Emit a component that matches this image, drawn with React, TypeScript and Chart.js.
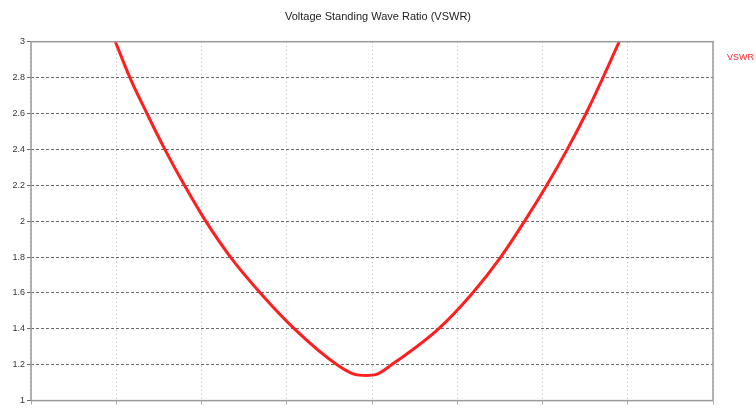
import React, { useEffect, useRef } from "react";
import { Chart, registerables } from "chart.js";

Chart.register(...registerables);

const titleText = "Voltage Standing Wave Ratio (VSWR)";
const seriesName = "VSWR";
const xPositions = [0.99, 1.16, 1.36, 1.57, 1.8, 2.05, 2.34, 2.69, 3.09, 3.59, 3.8, 3.93, 4.05, 4.23, 4.78, 5.18, 5.51, 5.79, 6.05, 6.29, 6.51, 6.71, 6.9];
const vswrValues = [3.0, 2.8, 2.6, 2.4, 2.2, 2.0, 1.8, 1.6, 1.4, 1.2, 1.146, 1.14, 1.146, 1.2, 1.4, 1.6, 1.8, 2.0, 2.2, 2.4, 2.6, 2.8, 3.0];
const yTicks = [1, 1.2, 1.4, 1.6, 1.8, 2, 2.2, 2.4, 2.6, 2.8, 3];

const boxPlugin = {
  id: "boxAndLabel",
  afterDraw(chart: any) {
    const { ctx, chartArea } = chart;
    ctx.save();
    ctx.strokeStyle = "#9a9a9a";
    ctx.lineWidth = 1.5;
    ctx.strokeRect(chartArea.left, chartArea.top, chartArea.right - chartArea.left, chartArea.bottom - chartArea.top);
    ctx.fillStyle = "#ff2a2a";
    ctx.font = "9px 'Liberation Sans', sans-serif";
    ctx.textAlign = "left";
    ctx.textBaseline = "middle";
    ctx.fillText(seriesName, chartArea.right + 14, 58);
    ctx.restore();
  },
};

export default function App() {
  const ref = useRef<HTMLCanvasElement | null>(null);
  useEffect(() => {
    document.body.style.margin = "0";
    const chart = new Chart(ref.current as HTMLCanvasElement, {
      type: "line",
      data: {
        datasets: [
          {
            label: seriesName,
            data: xPositions.map((x, i) => ({ x, y: vswrValues[i] })),
            borderColor: "#ff1f1f",
            borderWidth: 3,
            pointRadius: 0,
            cubicInterpolationMode: "monotone",
            fill: false,
          },
        ],
      },
      options: {
        animation: false,
        responsive: false,
        layout: { padding: { left: 0, right: 0, top: 0, bottom: 2 } },
        plugins: {
          legend: { display: false },
          tooltip: { enabled: false },
          title: {
            display: true,
            text: titleText,
            color: "#222",
            font: { size: 11, family: "'Liberation Sans Narrow', 'Liberation Sans', sans-serif", weight: "normal" },
            padding: { top: 10, bottom: 18.5 },
          },
        },
        scales: {
          x: {
            type: "linear",
            min: 0,
            max: 8,
            ticks: { stepSize: 1, display: false },
            grid: { color: "#b0b0b0", lineWidth: 1, tickLength: 4 },
            border: { display: false, dash: [1, 3] },
          },
          y: {
            type: "linear",
            min: 1,
            max: 3,
            afterBuildTicks: (scale: any) => {
              scale.ticks = yTicks.map((v) => ({ value: v }));
            },
            afterFit: (scale: any) => {
              scale.width = 31;
            },
            ticks: {
              color: "#333",
              padding: 2,
              font: { size: 9, family: "'Liberation Sans', sans-serif" },
              callback: (v: any) => String(Math.round(Number(v) * 10) / 10),
            },
            grid: { color: "#6a6a6a", lineWidth: 1, tickLength: 4 },
            border: { display: false, dash: [3, 2] },
          },
          y2: {
            type: "linear",
            position: "right",
            min: 1,
            max: 3,
            ticks: { display: false },
            grid: { display: false },
            border: { display: false },
            afterFit: (scale: any) => {
              scale.width = 43;
            },
          },
        },
      } as any,
      plugins: [boxPlugin],
    });
    return () => chart.destroy();
  }, []);
  return (
    <div style={{ width: 756, height: 408, background: "#fff" }}>
      <canvas ref={ref} width={756} height={408} style={{ display: "block" }} />
    </div>
  );
}
